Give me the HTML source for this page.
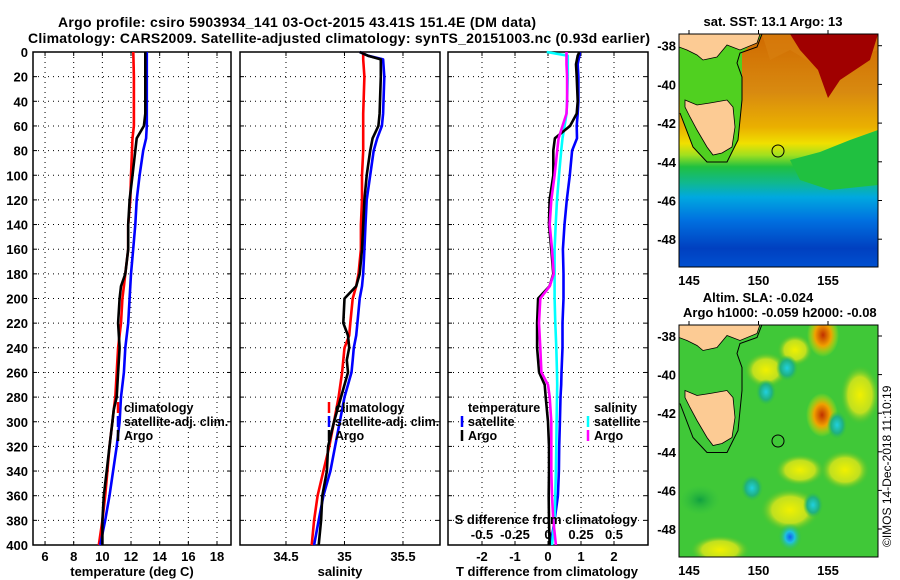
<!DOCTYPE html>
<html><head><meta charset="utf-8"><style>
html,body{margin:0;padding:0;background:#fff;}
svg{display:block;font-family:"Liberation Sans",sans-serif;font-weight:bold;}
</style></head><body>
<svg id="fig" width="900" height="580" viewBox="0 0 900 580" xmlns="http://www.w3.org/2000/svg">
<defs>
<linearGradient id="sstGrad" x1="0" y1="0" x2="0" y2="1">
<stop offset="0" stop-color="#d06a00"/><stop offset="0.25" stop-color="#d88a10"/>
<stop offset="0.4" stop-color="#eab000"/><stop offset="0.47" stop-color="#f0e000"/>
<stop offset="0.52" stop-color="#a0e020"/><stop offset="0.57" stop-color="#20c040"/>
<stop offset="0.64" stop-color="#10b890"/><stop offset="0.7" stop-color="#00a8e0"/>
<stop offset="0.8" stop-color="#0070e0"/><stop offset="0.92" stop-color="#0040c0"/>
<stop offset="1" stop-color="#0050d0"/></linearGradient>
<radialGradient id="gRed"><stop offset="0" stop-color="#c03000"/><stop offset="0.5" stop-color="#f0a000"/><stop offset="1" stop-color="#e0f000" stop-opacity="0"/></radialGradient>
<radialGradient id="gCyan"><stop offset="0" stop-color="#20d0e0"/><stop offset="0.6" stop-color="#20b080"/><stop offset="1" stop-color="#30c040" stop-opacity="0"/></radialGradient>
<radialGradient id="gBlue"><stop offset="0" stop-color="#1060f0"/><stop offset="0.4" stop-color="#20c0e0"/><stop offset="1" stop-color="#30c040" stop-opacity="0"/></radialGradient>
<radialGradient id="gYel"><stop offset="0" stop-color="#f0f000"/><stop offset="0.6" stop-color="#c0e020"/><stop offset="1" stop-color="#40c030" stop-opacity="0"/></radialGradient>
<radialGradient id="gDk"><stop offset="0" stop-color="#10a040"/><stop offset="1" stop-color="#30c040" stop-opacity="0"/></radialGradient>
<clipPath id="clipTop"><rect x="679" y="34" width="199" height="233"/></clipPath>
<clipPath id="clipBot"><rect x="679" y="325" width="199" height="232"/></clipPath>
<g id="land">
<polygon points="685,100 697,105 710,103 727,100 733,107 735,127 732,147 722,153 713,155 707,147 697,130 690,117 685,107" fill="#fccb94" stroke="#000" stroke-width="0.8"/>
<polygon points="679,34 760,34 757,43 740,50 727,45 717,57 703,60 697,55 687,50 679,47" fill="#fccb94" stroke="#000" stroke-width="0.8"/>
<polyline points="680,113 693,147 707,162 727,162 738,140 742,100 742,77 737,63 740,53 757,47 762,34" fill="none" stroke="#000" stroke-width="1"/>
</g>
</defs>

<text x="58" y="27" font-size="14" textLength="478">Argo profile: csiro 5903934_141 03-Oct-2015 43.41S 151.4E (DM data)</text>
<text x="28" y="43" font-size="14" textLength="622">Climatology: CARS2009. Satellite-adjusted climatology: synTS_20151003.nc (0.93d earlier)</text>

<g id="panels"></g>

<g>
<text x="773" y="26" font-size="13" text-anchor="middle">sat. SST: 13.1 Argo: 13</text>
<g clip-path="url(#clipTop)">
<rect x="679" y="34" width="199" height="233" fill="url(#sstGrad)"/>
<polygon points="762,34 878,34 878,50 850,60 830,95 815,65 790,50 770,60" fill="#d88010" opacity="0.6"/>
<polygon points="790,34 878,34 870,60 840,80 828,98 818,70 800,50" fill="#a00000"/>
<polygon points="790,160 820,152 850,140 878,130 878,185 830,190 800,180" fill="#20c040"/>
<polygon points="679,47 697,55 717,57 727,45 740,50 757,43 762,34 742,53 742,100 738,140 727,162 707,162 693,147 680,113" fill="#50d020"/>
<use href="#land"/>
<circle cx="778" cy="151" r="6" fill="none" stroke="#000" stroke-width="1"/>
</g>
<rect x="679" y="34" width="199" height="233" fill="none" stroke="#000" stroke-width="1"/>
<g id="topTicks"></g>
</g>

<g>
<text x="758" y="302" font-size="13" text-anchor="middle">Altim. SLA: -0.024</text>
<text x="683" y="317" font-size="13">Argo h1000: -0.059 h2000: -0.08</text>
<g clip-path="url(#clipBot)">
<rect x="679" y="325" width="199" height="232" fill="#40c838"/>
<ellipse cx="766" cy="370" rx="22" ry="18" fill="url(#gYel)"/>
<ellipse cx="795" cy="350" rx="18" ry="16" fill="url(#gYel)"/>
<ellipse cx="790" cy="510" rx="30" ry="22" fill="url(#gYel)"/>
<ellipse cx="800" cy="470" rx="25" ry="16" fill="url(#gYel)"/>
<ellipse cx="720" cy="550" rx="30" ry="15" fill="url(#gYel)"/>
<ellipse cx="860" cy="395" rx="20" ry="30" fill="url(#gYel)"/>
<ellipse cx="845" cy="470" rx="25" ry="20" fill="url(#gYel)"/>
<ellipse cx="700" cy="500" rx="20" ry="15" fill="url(#gDk)"/>
<ellipse cx="822" cy="415" rx="16" ry="22" fill="url(#gRed)"/>
<ellipse cx="823" cy="335" rx="16" ry="22" fill="url(#gRed)"/>
<ellipse cx="766" cy="392" rx="10" ry="13" fill="url(#gCyan)"/>
<ellipse cx="787" cy="368" rx="11" ry="13" fill="url(#gCyan)"/>
<ellipse cx="837" cy="425" rx="10" ry="14" fill="url(#gCyan)"/>
<ellipse cx="752" cy="488" rx="11" ry="13" fill="url(#gCyan)"/>
<ellipse cx="813" cy="505" rx="10" ry="13" fill="url(#gCyan)"/>
<ellipse cx="790" cy="537" rx="12" ry="14" fill="url(#gBlue)"/>
<g transform="translate(0,290.5)"><use href="#land"/></g>
<circle cx="778" cy="441" r="6" fill="none" stroke="#000" stroke-width="1"/>
</g>
<rect x="679" y="325" width="199" height="232" fill="none" stroke="#000" stroke-width="1"/>
<g id="botTicks"></g>
</g>
<text transform="translate(891,547) rotate(-90)" font-size="12" font-weight="normal">©IMOS 14-Dec-2018 11:10:19</text>
</svg>
<script>
const depthsT = [0,20,50,60,70,80,100,120,140,160,180,190,200,220,240,260,280,290,300,320,340,360,380,400];
const climT = [12.16,12.2,12.2,12.2,12.1,12.07,12.0,11.95,11.8,11.8,11.6,11.5,11.4,11.3,11.1,11.0,10.9,10.8,10.7,10.5,10.35,10.2,10.0,9.75];
const satT = [13.1,13.1,13.1,13.1,13.05,12.85,12.6,12.4,12.3,12.15,12.0,11.95,11.9,11.8,11.6,11.5,11.3,11.25,11.2,11.0,10.75,10.5,10.2,9.85];
const argoT = [13.0,13.0,13.0,12.9,12.4,12.3,12.1,11.9,11.8,11.8,11.6,11.3,11.2,11.1,11.2,11.1,11.0,10.8,10.7,10.5,10.3,10.1,10.0,10.0];
const depthsS = [0,3,6,20,50,60,70,80,100,120,140,160,180,190,200,220,230,240,250,260,280,300,320,340,360,380,400];
const climS = [35.16,35.16,35.16,35.17,35.16,35.16,35.16,35.16,35.15,35.15,35.14,35.14,35.12,35.1,35.07,35.05,35.04,35.0,34.99,34.98,34.95,34.91,34.87,34.82,34.77,34.74,34.72];
const satS = [35.13,35.2,35.33,35.34,35.33,35.32,35.28,35.25,35.22,35.19,35.18,35.17,35.16,35.15,35.13,35.11,35.1,35.08,35.07,35.06,35.0,34.96,34.92,34.88,34.82,34.78,34.74];
const argoS = [35.13,35.2,35.31,35.31,35.3,35.29,35.24,35.22,35.19,35.17,35.16,35.15,35.13,35.1,35.0,34.99,35.03,35.04,35.02,35.03,34.97,34.91,34.86,34.85,34.81,34.80,34.78];
const depthsD = [0,3,10,20,40,50,60,70,80,100,120,140,160,180,190,200,220,240,260,270,280,300,320,340,360,380,400];
const dTsat = [0.97,0.95,0.9,0.92,0.92,0.9,0.87,0.88,0.73,0.66,0.57,0.5,0.45,0.47,0.47,0.47,0.44,0.44,0.41,0.4,0.38,0.36,0.34,0.33,0.3,0.2,0.08];
const dTargo = [0.95,0.9,0.85,0.87,0.9,0.87,0.67,0.21,0.16,0.16,0.05,0.03,0.1,0.16,0.05,-0.3,-0.33,-0.33,-0.27,-0.1,-0.07,0.0,0.03,0.03,0.02,0.03,0.05];
const dSsat = [-0.01,0.15,0.15,0.15,0.145,0.14,0.126,0.11,0.1,0.083,0.068,0.058,0.05,0.05,0.05,0.05,0.055,0.063,0.068,0.07,0.068,0.065,0.063,0.06,0.055,0.05,0.03];
const dSargo = [0.14,0.14,0.14,0.145,0.145,0.14,0.11,0.08,0.07,0.05,0.025,0.013,0.03,0.043,0.013,-0.058,-0.068,-0.058,-0.05,0.0,0.013,0.025,0.025,0.025,0.03,0.04,0.06];
const depthTicks = [0,20,40,60,80,100,120,140,160,180,200,220,240,260,280,300,320,340,360,380,400];
const tempTicks = [6,8,10,12,14,16,18];
const salTicks = [34.5,35,35.5];
const salTickLabels = ["34.5","35","35.5"];
const dTTicks = [-2,-1,0,1,2];
const dSTicks = [-0.5,-0.25,0,0.25,0.5];
const dSTickLabels = ["-0.5","-0.25","0","0.25","0.5"];
const lonTicks = [145,150,155];
const latTicks = [-38,-40,-42,-44,-46,-48];

const NS = "http://www.w3.org/2000/svg";
const yD = d => 52 + d*1.2325;
const x1 = t => 33 + (t-5.16)*14.33;
const x2 = s => 240 + (s-34.107)*117;
const x3 = t => 548 + t*33;
const x3s = s => 548 + s*132;
const lonTop = l => 689 + (l-145)*13.9;
const latTop = l => 45.7 + (-38-l)*19.35;
const latBot = l => 336 + (-38-l)*19.3;
const root = document.getElementById('panels');
function mk(tag, attrs, parent){ const e=document.createElementNS(NS,tag); for(const k in attrs) e.setAttribute(k,attrs[k]); (parent||root).appendChild(e); return e; }

function panel(name, L, R, xs, vticks, vlabels, leftLabels, xlabel, xlabelX){
  const g = mk('g',{});
  
  
  depthTicks.forEach((d,i)=>{
    if(i>0 && i<depthTicks.length-1){ const l=mk('line',{x1:L,x2:R,y1:yD(d),y2:yD(d),stroke:'#000','stroke-width':1,'stroke-dasharray':'1,4'},g);
      
       }
    mk('line',{x1:L,x2:L+4,y1:yD(d),y2:yD(d),stroke:'#000'},g);
    mk('line',{x1:R-4,x2:R,y1:yD(d),y2:yD(d),stroke:'#000'},g);
    if(leftLabels){ const t=mk('text',{x:L-5,y:yD(d)+5,'font-size':13,'text-anchor':'end'},g); t.textContent=d;
      
       }
  });
  vticks.forEach((v,i)=>{
    const l=mk('line',{x1:xs(v),x2:xs(v),y1:52,y2:545,stroke:'#000','stroke-width':1,'stroke-dasharray':'1,4'},g);
    
    
    mk('line',{x1:xs(v),x2:xs(v),y1:541,y2:545,stroke:'#000'},g);
    mk('line',{x1:xs(v),x2:xs(v),y1:52,y2:56,stroke:'#000'},g);
    const t=mk('text',{x:xs(v),y:561,'font-size':13,'text-anchor':'middle'},g); t.textContent=vlabels[i];
    
    
  });
  const r=mk('rect',{x:L,y:52,width:R-L,height:493,fill:'none',stroke:'#000','stroke-width':1.5},g);
  
  
  const t=mk('text',{x:xlabelX,y:576,'font-size':13,'text-anchor':'middle'},g); t.textContent=xlabel;
  
  
  return g;
}
function series(g, name, depths, vals, xs, color){
  const pts = depths.map((d,i)=>xs(vals[i]).toFixed(1)+','+yD(d).toFixed(1)).join(' ');
  const p = mk('polyline',{points:pts,fill:'none',stroke:color,'stroke-width':2.6,'stroke-linejoin':'round'},g);
  
  
}
function legend(g, x, y, color, label){
  mk('line',{x1:x,x2:x,y1:y-10,y2:y+1,stroke:color,'stroke-width':2.5},g);
  const t=mk('text',{x:x+6,y:y,'font-size':12.5},g); t.textContent=label;
  
  
}

const g1 = panel('temperature-panel',33,231,x1,tempTicks,tempTicks.map(String),true,'temperature (deg C)',132);
series(g1,'temp-climatology-line',depthsT,climT,x1,'#f00');
series(g1,'temp-satellite-line',depthsT,satT,x1,'#00f');
series(g1,'temp-argo-line',depthsT,argoT,x1,'#000');
legend(g1,118,412,'#f00','climatology'); legend(g1,118,426,'#00f','satellite-adj. clim.'); legend(g1,118,440,'#000','Argo');

const g2 = panel('salinity-panel',240,440,x2,salTicks,salTickLabels,false,'salinity',340);
series(g2,'sal-climatology-line',depthsS,climS,x2,'#f00');
series(g2,'sal-satellite-line',depthsS,satS,x2,'#00f');
series(g2,'sal-argo-line',depthsS,argoS,x2,'#000');
legend(g2,329,412,'#f00','climatology'); legend(g2,329,426,'#00f','satellite-adj. clim.'); legend(g2,329,440,'#000','Argo');

const g3 = panel('difference-panel',448,648,x3,dTTicks,dTTicks.map(String),false,'T difference from climatology',547);
series(g3,'dT-satellite-line',depthsD,dTsat,x3,'#00f');
series(g3,'dS-satellite-line',depthsD,dSsat,x3s,'#0ff');
series(g3,'dT-argo-line',depthsD,dTargo,x3,'#000');
series(g3,'dS-argo-line',depthsD,dSargo,x3s,'#f0f');
{ const t=mk('text',{x:468,y:412,'font-size':12.5},g3); t.textContent='temperature';
  
   }
legend(g3,462,426,'#00f','satellite'); legend(g3,462,440,'#000','Argo');
{ const t=mk('text',{x:594,y:412,'font-size':12.5},g3); t.textContent='salinity';
  
   }
legend(g3,588,426,'#0ff','satellite'); legend(g3,588,440,'#f0f','Argo');
{ const t=mk('text',{x:546,y:524,'font-size':13,'text-anchor':'middle'},g3); t.textContent='S difference from climatology';
  
   }
dSTicks.forEach((v,i)=>{ const t=mk('text',{x:x3s(v),y:539,'font-size':13,'text-anchor':'middle'},g3); t.textContent=dSTickLabels[i];
  
   });

function mapTicks(id, top, bottom, latf){
  const g=document.getElementById(id);
  lonTicks.forEach(l=>{ const x=lonTop(l);
    mk('line',{x1:x,x2:x,y1:top-4,y2:top,stroke:'#000'},g);
    const t=mk('text',{x:x,y:bottom+18,'font-size':13,'text-anchor':'middle'},g); t.textContent=l;
    
     });
  latTicks.forEach(l=>{ const y=latf(l);
    mk('line',{x1:878,x2:882,y1:y,y2:y,stroke:'#000'},g);
    const t=mk('text',{x:676,y:y+5,'font-size':13,'text-anchor':'end'},g); t.textContent=l;
    
     });
}
mapTicks('topTicks',34,267,latTop);
mapTicks('botTicks',325,557,latBot);
</script>
</body></html>
